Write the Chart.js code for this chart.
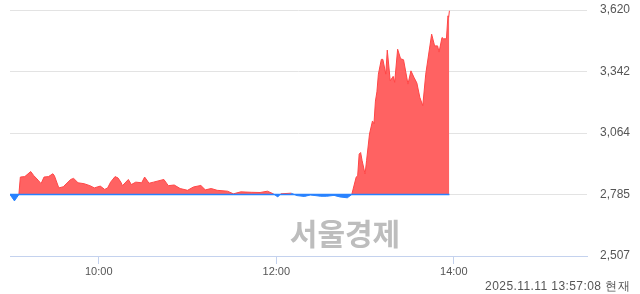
<!DOCTYPE html>
<html>
<head>
<meta charset="utf-8">
<script src="https://cdn.jsdelivr.net/npm/chart.js@4/dist/chart.umd.min.js"></script>
<style>
  html, body { margin: 0; padding: 0; background: #fff; }
  #wrap { position: relative; width: 640px; height: 294px; }
  #c { position: absolute; left: 0; top: 0; }
  #wm { position: absolute; left: 245px; top: 212px; width: 200px; text-align: center;
        font: bold 30px "Noto Sans CJK KR", sans-serif; color: #bdbdbd; line-height: 40px; }
  #ts { position: absolute; right: 10px; top: 278px; font: 12px "Liberation Sans", Arial, sans-serif;
        color: #555; line-height: 16px; white-space: nowrap; letter-spacing: 0px; }
</style>
</head>
<body>
<div id="wrap">
  <canvas id="c" width="640" height="294"></canvas>
  <div id="wm">서울경제</div>
  <div id="ts">2025.11.11 13:57:08 현재</div>
</div>
<script>
// ---- data (minutes after 09:00, price) ----
const prevClose = 2785;
const minutes = [0, 3, 6, 7, 10, 14, 16, 19, 21, 23, 26, 29, 30, 33, 36, 41, 43, 46, 50, 54,
  57, 61, 64, 66, 68, 71, 73, 75, 76, 80, 82, 85, 89, 91, 94, 97, 104, 107, 111, 115, 120, 124, 129, 132,
  136, 140, 147, 151, 156, 163, 169, 174, 178, 181, 183, 190, 194, 199, 203, 210, 214, 219, 223, 228,
  231, 234, 235, 236, 237, 238, 240, 241, 243, 245, 246, 247, 248, 249, 251, 252, 254, 255, 257, 259,
  260, 262, 264, 266, 269, 271, 273, 275, 277, 279, 281, 283, 285, 287, 289, 290, 292, 293, 295, 296,
  296.5, 297];
const prices = [2785, 2756, 2785, 2864, 2866, 2889, 2871, 2850, 2834, 2864, 2866, 2879, 2870, 2815, 2820, 2853, 2858, 2838, 2834, 2825,
  2815, 2823, 2808, 2815, 2841, 2866, 2860, 2840, 2825, 2853, 2830, 2841, 2838, 2864, 2836, 2841, 2853, 2825, 2828, 2812, 2804, 2819, 2826, 2806,
  2812, 2804, 2800, 2788, 2797, 2795, 2794, 2800, 2788, 2774, 2788, 2791, 2780, 2776, 2783, 2777, 2777, 2781, 2774, 2770,
  2785, 2864, 2870, 2968, 2975, 2938, 2878, 2938, 3059, 3118, 3105, 3208, 3250, 3330, 3397, 3397, 3330, 3439, 3300, 3320,
  3293, 3443, 3400, 3395, 3285, 3345, 3316, 3290, 3225, 3187, 3330, 3421, 3511, 3458, 3458, 3430, 3496, 3490, 3490, 3594,
  3588, 3617];
const yTickValues = [2506.5, 2785, 3063.5, 3342, 3620.5];
const yTickLabels = ['2,507', '2,785', '3,064', '3,342', '3,620'];
const xTickMinutes = [60, 180, 300];
const xTickLabels = ['10:00', '12:00', '14:00'];

// fit the timestamp text to the reference width (layout only)
(function () {
  const ts = document.getElementById('ts');
  const targetWidth = 145;
  const n = ts.textContent.length;
  const w = ts.getBoundingClientRect().width;
  ts.style.letterSpacing = Math.max(0, (targetWidth - w) / n).toFixed(2) + 'px';
})();

const RED = 'rgb(255,70,70)';
const RED_FILL = 'rgba(255,98,98,1)';
const BLUE = 'rgb(40,130,255)';

const series = minutes.map((m, i) => ({ x: m, y: prices[i] }));
const baseLine = [{ x: minutes[0], y: prevClose }, { x: minutes[minutes.length - 1], y: prevClose }];

new Chart(document.getElementById('c'), {
  type: 'line',
  data: {
    datasets: [
      {
        data: baseLine,
        borderColor: BLUE,
        borderWidth: 1.5,
        pointRadius: 0,
        fill: false,
        order: 0
      },
      {
        data: series,
        borderWidth: 1,
        pointRadius: 0,
        tension: 0,
        order: 1,
        fill: { target: { value: prevClose }, above: RED_FILL, below: BLUE },
        segment: {
          borderColor: ctx => (ctx.p0.parsed.y < prevClose || ctx.p1.parsed.y < prevClose) ? BLUE : RED
        }
      }
    ]
  },
  options: {
    responsive: false,
    animation: false,
    layout: { padding: { left: 10, top: 10, right: 0, bottom: 0 } },
    plugins: { legend: { display: false }, tooltip: { enabled: false } },
    scales: {
      x: {
        type: 'linear',
        min: 0,
        max: 390,
        afterBuildTicks: s => { s.ticks = xTickMinutes.map(v => ({ value: v })); },
        afterFit: s => { s.height = 38; s.paddingLeft = 0; s.paddingRight = 0; },
        ticks: {
          callback: (v) => xTickLabels[xTickMinutes.indexOf(v)],
          color: '#555',
          font: { family: 'Liberation Sans', size: 11 },
          padding: 1,
          maxRotation: 0,
          autoSkip: false
        },
        grid: { drawOnChartArea: false, drawTicks: true, tickLength: 8, color: '#c4d2ee' },
        border: { display: true, color: '#c4d2ee', width: 1 }
      },
      y: {
        position: 'right',
        min: 2506.5,
        max: 3620.5,
        afterBuildTicks: s => { s.ticks = yTickValues.map(v => ({ value: v })); },
        afterFit: s => { s.width = 53; s.paddingTop = 0; s.paddingBottom = 0; },
        ticks: {
          callback: (v) => yTickLabels[yTickValues.indexOf(v)],
          color: '#555',
          font: { family: 'Liberation Sans', size: 12 },
          padding: 13,
          autoSkip: false
        },
        grid: {
          drawTicks: false,
          color: ctx => ctx.index === 0 ? '#c4d2ee' : '#e3e3e3'
        },
        border: { display: false }
      }
    }
  }
});
</script>
</body>
</html>
